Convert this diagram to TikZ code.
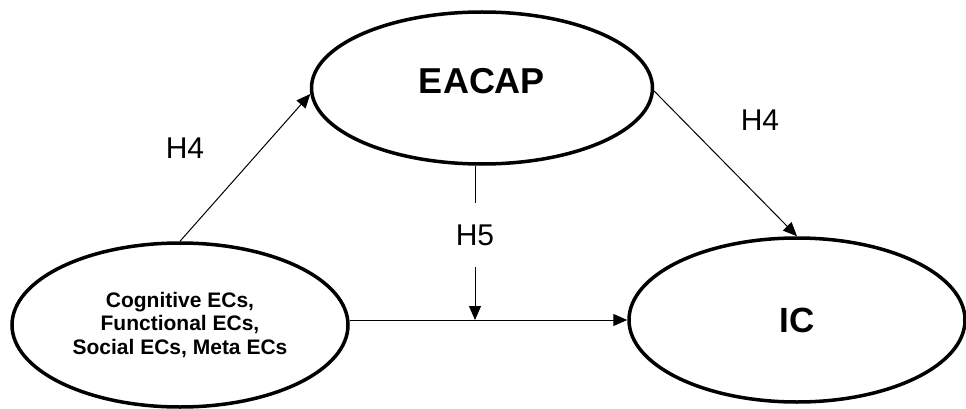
\documentclass[tikz,border=0pt]{standalone}
\usepackage{fontspec}
\setmainfont{Liberation Sans}
\usetikzlibrary{shapes.geometric,arrows.meta}
\begin{document}
\begin{tikzpicture}[x=1pt,y=-1pt,
  construct/.style={ellipse,draw,line width=3.5pt,inner sep=0pt,align=center},
  link/.style={line width=1pt,-{Triangle[length=14pt,width=12pt]}},
  plainlink/.style={line width=1pt},
  hyp/.style={font=\fontsize{30}{34}\selectfont,inner sep=0pt}]
\useasboundingbox (0,0) rectangle (966,409);

% constructs
\node[construct,minimum width=336pt,minimum height=164pt,
      font=\bfseries\fontsize{21}{23.5}\selectfont] (L) at (180,325)
  {Cognitive ECs,\\Functional ECs,\\Social ECs, Meta ECs};
\node[construct,minimum width=341pt,minimum height=152pt,text depth=14pt,
      font=\bfseries\fontsize{36}{40}\selectfont] (E) at (482,88) {EACAP};
\node[construct,minimum width=336pt,minimum height=164pt,
      font=\bfseries\fontsize{35}{40}\selectfont] (IC) at (797,320) {IC};

% hypothesis labels
\node[hyp] (h4a) at (185,148) {H4};
\node[hyp] (h4b) at (760,120) {H4};
\node[hyp,fill=white,minimum height=64pt] (H5) at (475,235) {H5};

% paths
\draw[link] (L.north) -- (E.182);
\draw[link] (E.359) -- (IC.north);
\draw[link] (L.east |- IC.west) -- (IC.west);
\coordinate (J) at (H5.south |- IC.west);
\draw[plainlink] (H5.north |- E.south) -- (H5.north);
\draw[link] (H5.south) -- (J);
\end{tikzpicture}
\end{document}
